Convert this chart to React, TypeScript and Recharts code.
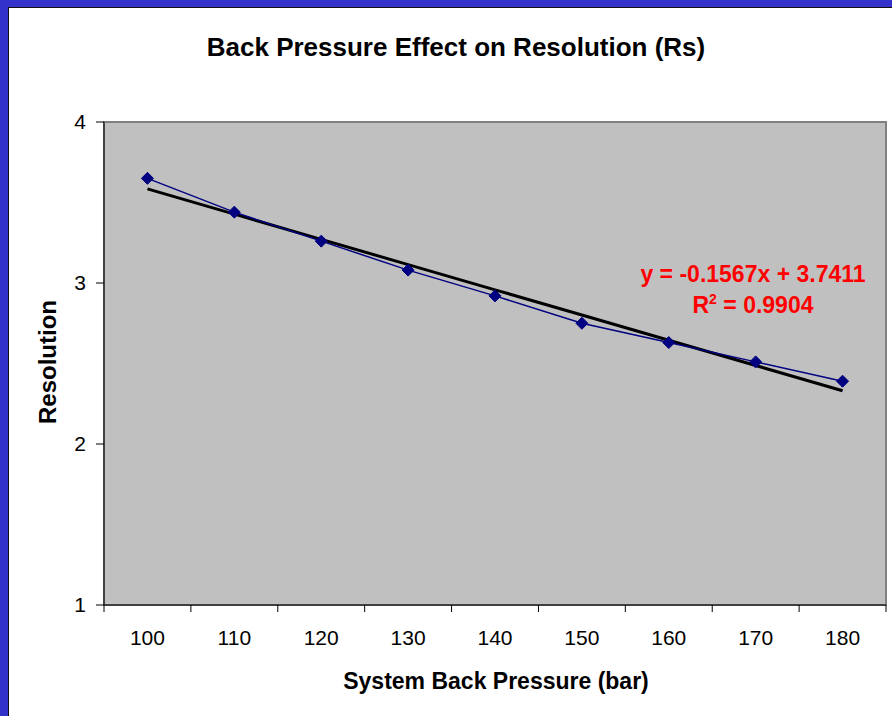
import React from "react"
import { LineChart, Line, XAxis, YAxis, ReferenceArea } from "recharts"

// system back pressure (bar), one category per point
const pressures = ["100", "110", "120", "130", "140", "150", "160", "170", "180"]
// measured resolution (Rs)
const resolution = [3.65, 3.44, 3.26, 3.08, 2.92, 2.75, 2.63, 2.51, 2.39]
const yTicks = [1, 2, 3, 4]

// linear trendline shown on the chart
const slope = -0.1567
const intercept = 3.7411
const rSquared = 0.9904

const data = pressures.map((p, i) => ({
  idx: i + 1,
  label: p,
  rs: resolution[i],
  trend: intercept + slope * (i + 1),
}))

// category centres get labels, the half steps get the tick marks
const xTicks: number[] = []
for (let i = 0; i <= pressures.length * 2; i++) xTicks.push(0.5 + i * 0.5)

const font = '"Liberation Sans", Arial, sans-serif'

function XTick(props: any) {
  const { x, y, payload } = props
  const v = payload.value
  if (Number.isInteger(v)) {
    return (
      <text x={x} y={y + 32} textAnchor="middle" fontSize={21} fill="#000" fontFamily={font}>
        {pressures[v - 1]}
      </text>
    )
  }
  return <line x1={x} x2={x} y1={y - 8} y2={y - 1} stroke="#000" strokeWidth={1} />
}

function Diamond(props: any) {
  const { cx, cy } = props
  if (cx == null || cy == null) return null
  const s = 6
  return (
    <polygon
      points={`${cx},${cy - s} ${cx + s},${cy} ${cx},${cy + s} ${cx - s},${cy}`}
      fill="#000080"
      stroke="#000080"
    />
  )
}

export default function App() {
  return (
    <div style={{ position: "absolute", left: 0, top: 0, width: 892, height: 716, background: "#3333CC", fontFamily: font }}>
      <div
        style={{
          position: "absolute",
          left: 8,
          top: 7,
          width: 884,
          height: 709,
          background: "#fff",
          borderTop: "1px solid #111",
          borderLeft: "1px solid #111",
          boxSizing: "border-box",
        }}
      />
      <div style={{ position: "absolute", left: 0, top: 0 }}>
        <LineChart width={892} height={716} data={data} margin={{ top: 122, right: 6, bottom: 71, left: 0 }}>
          <ReferenceArea x1={0.5} x2={pressures.length + 0.5} y1={1} y2={4} fill="#C0C0C0" fillOpacity={1} stroke="#808080" strokeWidth={2} />
          <XAxis
            type="number"
            dataKey="idx"
            domain={[0.5, pressures.length + 0.5]}
            ticks={xTicks}
            interval={0}
            tickLine={false}
            axisLine={{ stroke: "#000" }}
            tick={<XTick />}
            height={40}
          />
          <YAxis
            type="number"
            domain={[1, 4]}
            ticks={yTicks}
            width={104}
            tickSize={8}
            tickMargin={10}
            axisLine={{ stroke: "#000" }}
            tickLine={{ stroke: "#000" }}
            tick={{ fill: "#000", fontSize: 21, fontFamily: font }}
          />
          <Line dataKey="trend" stroke="#000" strokeWidth={3} dot={false} isAnimationActive={false} />
          <Line dataKey="rs" stroke="#000080" strokeWidth={1.5} dot={<Diamond />} isAnimationActive={false} />
        </LineChart>
      </div>
      <div style={{ position: "absolute", left: 456, top: 32, transform: "translateX(-50%)", whiteSpace: "nowrap", fontSize: 26, fontWeight: "bold", lineHeight: "30px" }}>
        Back Pressure Effect on Resolution (Rs)
      </div>
      <div style={{ position: "absolute", left: 496, top: 668, transform: "translateX(-50%)", whiteSpace: "nowrap", fontSize: 23, fontWeight: "bold", lineHeight: "26px" }}>
        System Back Pressure (bar)
      </div>
      <div style={{ position: "absolute", left: 48, top: 362, transform: "translate(-50%, -50%) rotate(-90deg)", whiteSpace: "nowrap", fontSize: 24, fontWeight: "bold", lineHeight: "26px" }}>
        Resolution
      </div>
      <div style={{ position: "absolute", left: 753, top: 259, transform: "translateX(-50%)", whiteSpace: "nowrap", fontSize: 23, fontWeight: "bold", color: "#FF0000", lineHeight: "31px", textAlign: "center" }}>
        <div>y = {slope}x + {intercept}</div>
        <div>
          R<sup style={{ fontSize: 14, verticalAlign: 9, lineHeight: 0 }}>2</sup> = {rSquared}
        </div>
      </div>
    </div>
  )
}
